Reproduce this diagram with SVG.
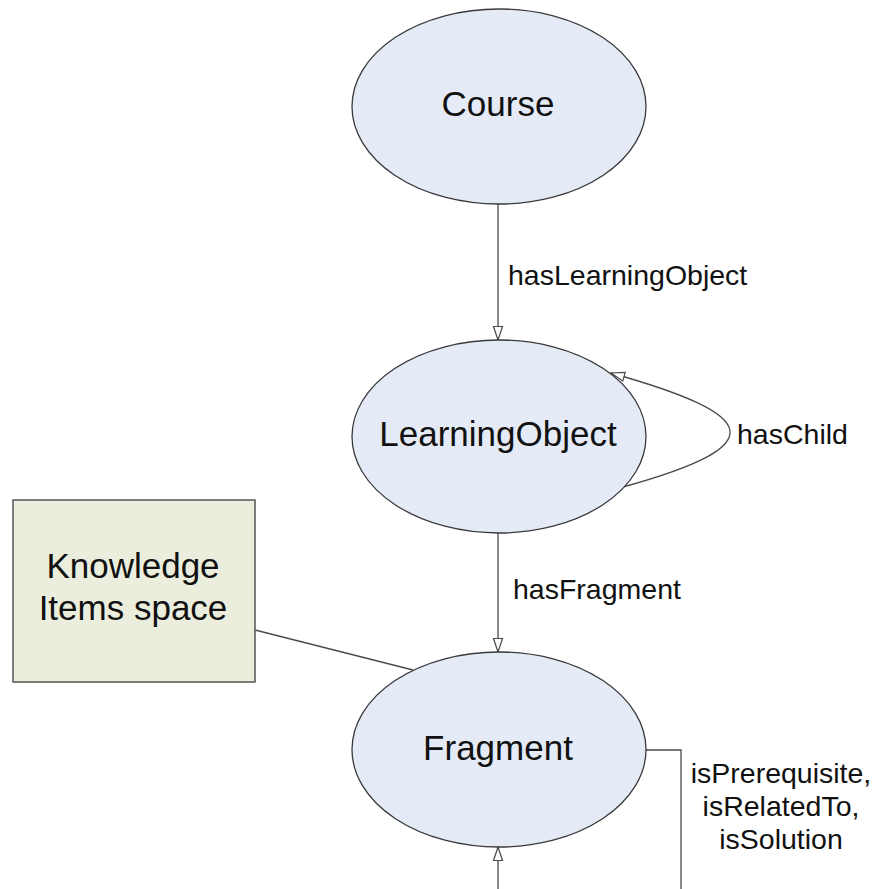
<svg xmlns="http://www.w3.org/2000/svg" width="875" height="889" viewBox="0 0 875 889">
<defs>
<style>
.node{fill:#e5ebf6;stroke:#3a3a3a;stroke-width:1.3}
.box{fill:#ebeedd;stroke:#555;stroke-width:1.5}
.t{font-family:"Liberation Sans",Arial,sans-serif;font-size:35px;fill:#111;text-anchor:middle}
.lbl{font-family:"Liberation Sans",Arial,sans-serif;font-size:28.5px;fill:#111}
.c{fill:none;stroke:#4a4a4a;stroke-width:1.3}
</style>
<marker id="arr" markerUnits="userSpaceOnUse" markerWidth="16" markerHeight="12" refX="14" refY="5" orient="auto" overflow="visible">
<path d="M0.5,0.5 L14,5 L0.5,9.5 Z" fill="#fff" stroke="#4a4a4a" stroke-width="1.2"/>
</marker>
</defs>
<rect width="875" height="889" fill="#fff"/>
<g id="connectors">
<path class="c" d="M498,204 V340" marker-end="url(#arr)"/>
<path class="c" d="M623,487 C775,445 760,415 611,373" marker-end="url(#arr)"/>
<path class="c" d="M498,533 V652" marker-end="url(#arr)"/>
<path class="c" d="M255,630 L413,670"/>
<path class="c" d="M646,750 H681 V910 H498 V847" marker-end="url(#arr)"/>
<text class="lbl" x="508" y="285">hasLearningObject</text>
<text class="lbl" x="737" y="444">hasChild</text>
<text class="lbl" x="513" y="599">hasFragment</text>
<text class="lbl" text-anchor="middle" x="781" y="783">isPrerequisite,</text>
<text class="lbl" text-anchor="middle" x="781" y="816">isRelatedTo,</text>
<text class="lbl" text-anchor="middle" x="781" y="849">isSolution</text>
</g>
<g id="course">
<ellipse class="node" cx="499" cy="106.5" rx="147" ry="97.5"/>
<text class="t" x="498" y="116">Course</text>
</g>
<g id="learningobject">
<ellipse class="node" cx="499" cy="436.5" rx="147" ry="96.5"/>
<text class="t" x="498" y="446">LearningObject</text>
</g>
<g id="fragment">
<ellipse class="node" cx="499" cy="749.5" rx="147" ry="97.5"/>
<text class="t" x="498" y="760">Fragment</text>
</g>
<g id="knowledge">
<rect class="box" x="13" y="500" width="242" height="182"/>
<text class="t" x="133" y="578">Knowledge</text>
<text class="t" x="133" y="620">Items space</text>
</g>
</svg>
